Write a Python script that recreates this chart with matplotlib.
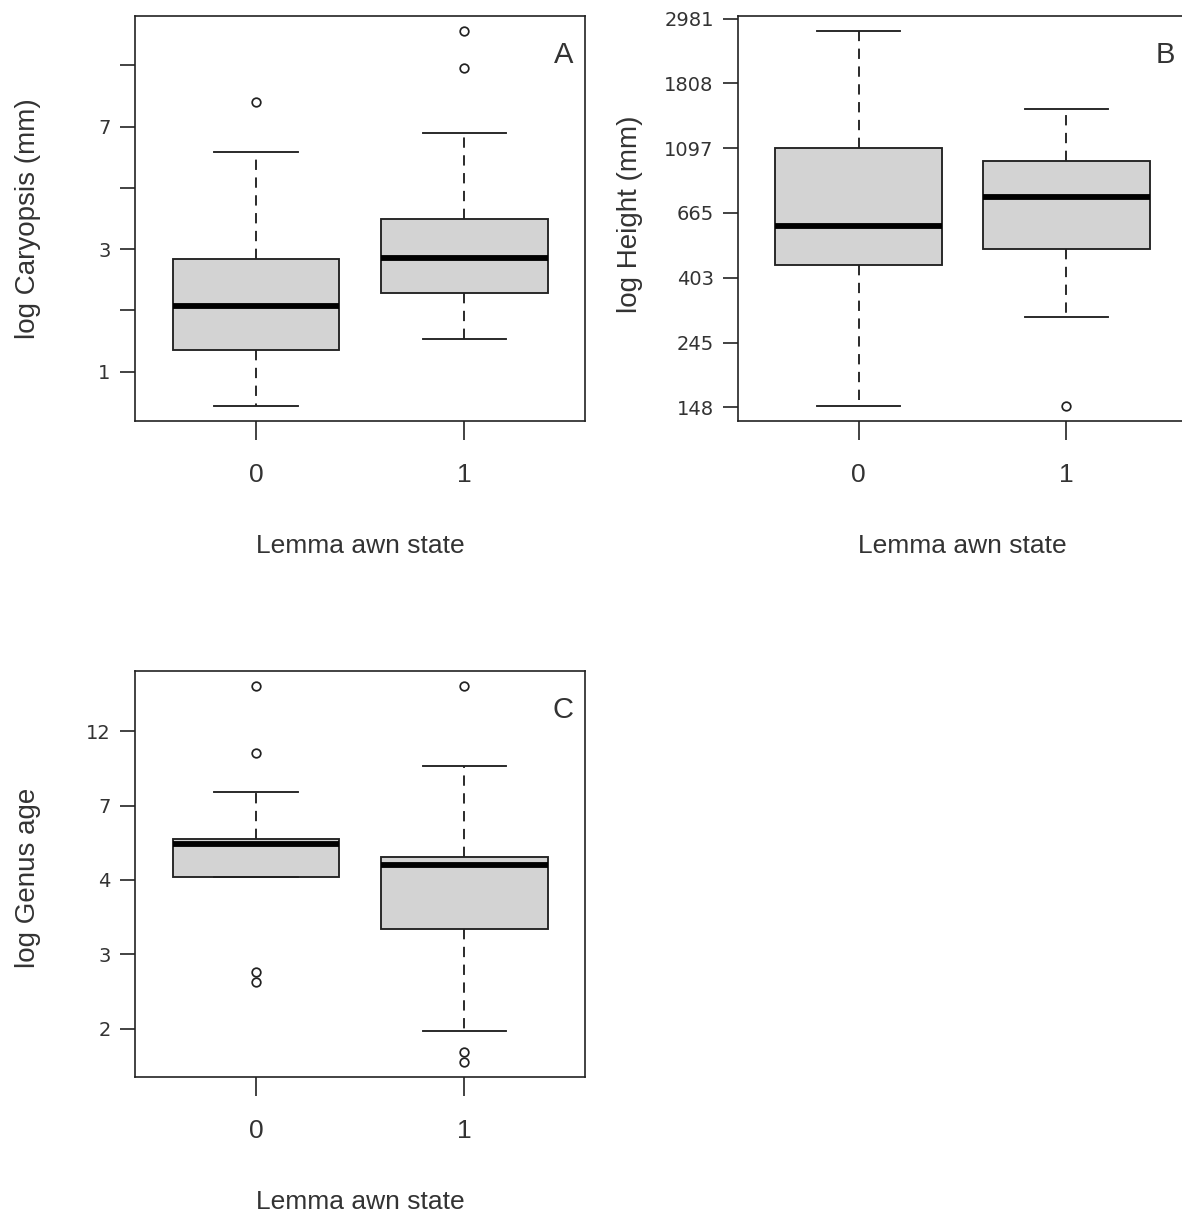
import numpy as np
import matplotlib
matplotlib.use('Agg')
import matplotlib.pyplot as plt

# box statistics, in log units (natural log)
groups = ['0', '1']

# A: log Caryopsis (mm)
car_whislo = [-0.28, 0.27]
car_q1 = [0.18, 0.64]
car_med = [0.54, 0.93]
car_q3 = [0.92, 1.25]
car_whishi = [1.79, 1.95]
car_fliers = [[2.20], [2.48, 2.78]]

# B: log Height (mm)
hgt_whislo = [5.01, 5.70]
hgt_q1 = [6.10, 6.22]
hgt_med = [6.40, 6.62]
hgt_q3 = [7.00, 6.90]
hgt_whishi = [7.905, 7.30]
hgt_fliers = [[], [5.01]]

# C: log Genus age (axis units = tick index)
age_whislo = [2.04, -0.03]
age_q1 = [2.04, 1.34]
age_med = [2.49, 2.20]
age_q3 = [2.55, 2.31]
age_whishi = [3.18, 3.53]
age_fliers = [[4.61, 3.71, 0.76, 0.63], [4.61, -0.31, -0.45]]
age_ticks = [0, 1, 2, 3, 4]
age_ticklabels = ['2', '3', '4', '7', '12']

W, H = 1182, 1215
fig = plt.figure(figsize=(W / 100, H / 100), dpi=100)
fig.patch.set_facecolor('white')

INK = '#222222'
TXT = '#333333'


def make_stats(wl, q1, med, q3, wh, fl):
    return [dict(whislo=wl[i], q1=q1[i], med=med[i], q3=q3[i], whishi=wh[i],
                 fliers=np.array(fl[i])) for i in range(len(med))]


def panel(rect, stats, letter, ylabel, yticks, yticklabels, ylab_x, ylab_y):
    ax = fig.add_axes(rect)
    ax.bxp(stats, positions=[1, 2], widths=0.8, capwidths=0.4,
           patch_artist=True, manage_ticks=False,
           boxprops=dict(facecolor='#d3d3d3', edgecolor=INK, linewidth=1.35),
           medianprops=dict(color='black', linewidth=4.2, solid_capstyle='butt'),
           whiskerprops=dict(color=INK, linewidth=1.35, linestyle=(0, (5.5, 4))),
           capprops=dict(color=INK, linewidth=1.35),
           flierprops=dict(marker='o', markerfacecolor='none', markeredgecolor=INK,
                           markersize=6.2, markeredgewidth=1.25))
    allv = []
    for s in stats:
        allv += [s['whislo'], s['whishi']] + list(s['fliers'])
    lo, hi = min(allv), max(allv)
    pad = 0.04 * (hi - lo)
    ax.set_ylim(lo - pad, hi + pad)
    ax.set_xlim(0.42, 2.58)

    ax.set_xticks([1, 2])
    ax.set_xticklabels(groups, family='Liberation Sans', fontsize=19, color=TXT)
    ax.set_yticks(yticks)
    ax.set_yticklabels(yticklabels, family='DejaVu Sans', fontsize=14, color=TXT)
    ax.tick_params(axis='x', direction='out', length=13.5, width=1.2, color=INK, pad=17)
    ax.tick_params(axis='y', direction='out', length=10.5, width=1.2, color=INK, pad=7)
    for sp in ax.spines.values():
        sp.set_color(INK)
        sp.set_linewidth(1.2)

    ax.set_xlabel('Lemma awn state', family='Liberation Sans', fontsize=19, color=TXT)
    ax.xaxis.label.set_va('center')
    ax.xaxis.set_label_coords(0.5, -0.308)
    ax.set_ylabel(ylabel, family='Liberation Sans', fontsize=20, color=TXT)
    ax.yaxis.label.set_va('center')
    ax.yaxis.set_label_coords(ylab_x, ylab_y)

    ax.text(0.952, 0.903, letter, transform=ax.transAxes, ha='center', va='center',
            family='Liberation Sans', fontsize=21, color=TXT)
    return ax


# panel A
a_ticks = [0, 0.5, 1, 1.5, 2, 2.5]
a_labels = ['%d' % round(np.exp(t)) if t == int(t) else '' for t in a_ticks]
panel([135 / W, 1 - 421 / H, 450 / W, 405 / H],
      make_stats(car_whislo, car_q1, car_med, car_q3, car_whishi, car_fliers),
      'A', 'log Caryopsis (mm)', a_ticks, a_labels, -0.238, 0.50)

# panel B (runs past the right edge, as in the source)
b_ticks = [5, 5.5, 6, 6.5, 7, 7.5, 8]
b_labels = ['%d' % round(np.exp(t)) for t in b_ticks]
panel([738 / W, 1 - 421 / H, 449 / W, 405 / H],
      make_stats(hgt_whislo, hgt_q1, hgt_med, hgt_q3, hgt_whishi, hgt_fliers),
      'B', 'log Height (mm)', b_ticks, b_labels, -0.24, 0.51)

# panel C
panel([135 / W, 1 - 1077 / H, 450 / W, 406 / H],
      make_stats(age_whislo, age_q1, age_med, age_q3, age_whishi, age_fliers),
      'C', 'log Genus age', age_ticks, age_ticklabels, -0.238, 0.49)

fig.savefig('out.png', dpi=100)
